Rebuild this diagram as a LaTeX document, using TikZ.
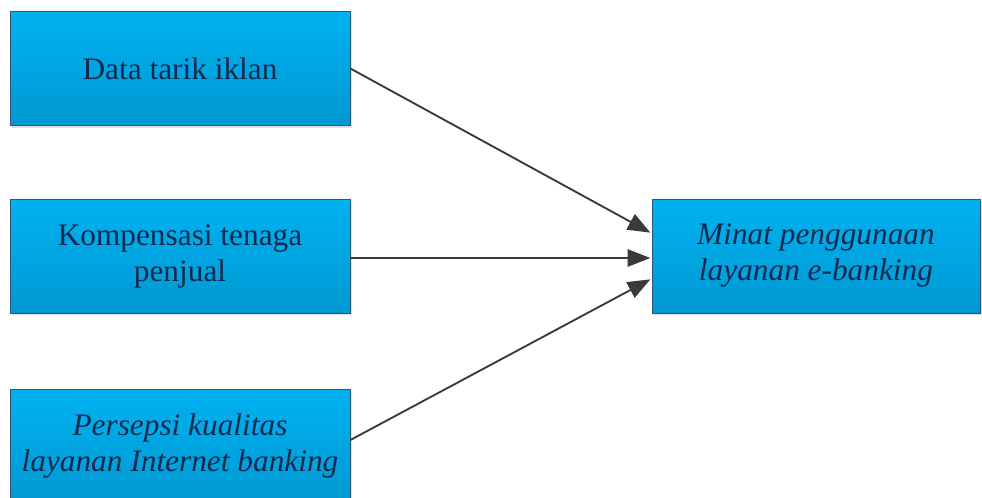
\documentclass[tikz,border=0pt]{standalone}
\usepackage{fontspec}
\setmainfont{Liberation Serif}
\usetikzlibrary{arrows.meta,positioning,shadows}
\definecolor{boxtop}{HTML}{00B2F0}
\definecolor{boxbot}{HTML}{0098D2}
\definecolor{boxline}{HTML}{2E5870}
\definecolor{boxtext}{HTML}{10294F}
\definecolor{arrowgray}{HTML}{3A3A3A}
\begin{document}
\begin{tikzpicture}[x=.75pt,y=-.75pt,>={Triangle[length=17pt,width=13pt]},
 varbox/.style={draw=boxline,line width=.6pt,top color=boxtop,bottom color=boxbot,
  minimum width=255pt,minimum height=85.5pt,align=center,text=boxtext,
  font=\fontsize{23.5}{27}\selectfont,inner sep=0pt,
  drop shadow={opacity=.25,shadow xshift=1.5pt,shadow yshift=-1.5pt}},
 link/.style={->,arrowgray,line width=1.4pt,shorten >=1pt}]
\useasboundingbox (0,0) rectangle (982,497);
% independent variables
\node[varbox] (iklan) at (180,68.5) {Data tarik iklan};
\node[varbox] (kompensasi) at (180,256) {Kompensasi tenaga\\penjual};
\node[varbox] (persepsi) at (180,446) {\itshape Persepsi kualitas\\\itshape layanan Internet banking};
% dependent variable
\node[varbox,minimum width=246pt] (minat) at (816,256) {\itshape Minat penggunaan\\\itshape layanan e-banking};
\draw[link] (iklan.east) -- ([yshift=17pt]minat.west);
\draw[link] ([yshift=-1.5pt]kompensasi.east) -- ([yshift=-1.5pt]minat.west);
\draw[link] ([yshift=4.5pt]persepsi.east) -- ([yshift=-17pt]minat.west);
\end{tikzpicture}
\end{document}
